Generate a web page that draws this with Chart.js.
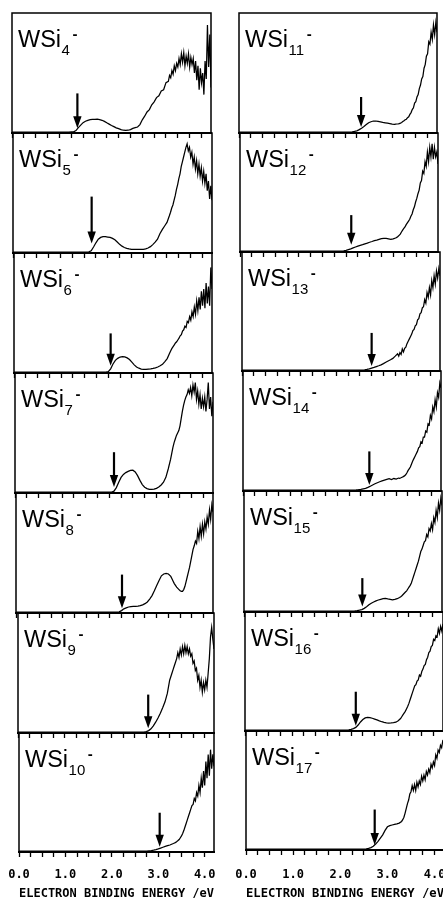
<!DOCTYPE html>
<html><head><meta charset="utf-8">
<script src="https://cdn.jsdelivr.net/npm/chart.js@4.4.0/dist/chart.umd.min.js"></script>
<style>
html,body{margin:0;padding:0;background:#fff;width:443px;height:898px;overflow:hidden;position:relative}
canvas{position:absolute}
</style></head><body>
<script>
// ---------------- DATA ----------------
const energy = [0.00, 0.50, 1.00,
 1.05, 1.10, 1.15, 1.20, 1.25, 1.30, 1.35, 1.40, 1.45, 1.50,
 1.55, 1.60, 1.65, 1.70, 1.75, 1.80, 1.85, 1.90, 1.95, 2.00,
 2.05, 2.10, 2.15, 2.20, 2.25, 2.30, 2.35, 2.40, 2.45, 2.50,
 2.55, 2.60, 2.65, 2.70, 2.75, 2.80, 2.85, 2.90, 2.95, 3.00,
 3.05, 3.10, 3.15, 3.20, 3.25,
 3.300, 3.325, 3.350, 3.375, 3.400, 3.425, 3.450, 3.475, 3.500,
 3.525, 3.550, 3.575, 3.600, 3.625, 3.650, 3.675, 3.700, 3.725, 3.750,
 3.775, 3.800, 3.825, 3.850, 3.875, 3.900, 3.925, 3.950, 3.975, 4.000,
 4.025, 4.050, 4.075, 4.100, 4.125, 4.150, 4.175, 4.200];

const clusterSizes = [4, 5, 6, 7, 8, 9, 10, 11, 12, 13, 14, 15, 16, 17];

const wsi4 = [0.8, 0.8, 0.8,
 0.8, 0.8, 0.8, 0.8, 0.9, 1.0, 2.0, 4.5, 6.6, 8.6,
 9.8, 10.5, 11.1, 11.3, 11.4, 11.5, 11.2, 10.6, 9.7, 8.5,
 7.4, 6.3, 5.3, 4.3, 3.6, 2.8, 2.3, 2.2, 2.3, 2.8,
 3.8, 4.5, 5.0, 7.0, 11.0, 14.0, 17.5, 19.5, 23.5, 26.0,
 29.5, 31.0, 35.0, 36.0, 42.0,
 43, 48, 46, 52, 49, 56, 52, 58, 55,
 62, 57, 66, 59, 67, 56, 64, 58, 66, 55,
 63, 57, 62, 50, 60, 44, 56, 36, 54, 42,
 50, 32, 60, 45, 90, 55, 82, 38];
const wsi5 = [0.8, 0.8, 0.8,
 0.8, 0.8, 0.8, 0.8, 0.8, 0.8, 0.8, 0.8, 0.8, 0.8,
 0.8, 1.0, 1.8, 5.0, 8.5, 11.5, 13.0, 13.6, 13.6, 13.3,
 13.0, 12.2, 11.0, 9.2, 7.2, 5.7, 4.6, 3.9, 3.4, 3.1,
 3.0, 3.0, 3.0, 3.0, 3.1, 3.4, 4.2, 5.3, 7.0, 9.0,
 11.5, 16.0, 19.5, 22.5, 25.5,
 31, 34, 37.5, 40, 44, 48, 53, 57, 62,
 66, 72, 76, 80, 84, 88, 91, 85, 88, 80,
 84, 74, 80, 70, 77, 66, 74, 64, 71, 60,
 68, 58, 66, 52, 60, 45, 56, 44];
const wsi6 = [0.8, 0.8, 0.8,
 0.8, 0.8, 0.8, 0.8, 0.8, 0.8, 0.8, 0.8, 0.8, 0.8,
 0.8, 0.8, 0.8, 0.8, 0.8, 0.8, 0.8, 0.8, 0.8, 1.2,
 3.5, 7.5, 10.5, 12.2, 13.3, 13.6, 13.4, 12.6, 11.2, 9.0,
 6.8, 5.0, 4.0, 3.3, 3.0, 3.0, 3.2, 3.4, 3.8, 4.3,
 5.0, 6.0, 7.2, 9.5, 12.0,
 16.4, 18.5, 20.5, 22, 23.5, 25, 26, 27.5, 29,
 31, 32, 35, 36, 39, 38, 43, 42, 47, 44,
 51, 47, 55, 49, 60, 52, 63, 53, 68, 56,
 70, 54, 75, 58, 72, 56, 88, 70];
const wsi7 = [0.8, 0.8, 0.8,
 0.8, 0.8, 0.8, 0.8, 0.8, 0.8, 0.8, 0.8, 0.8, 0.8,
 0.8, 0.8, 0.8, 0.8, 0.8, 0.8, 0.8, 0.8, 0.8, 0.8,
 0.8, 1.5, 4.5, 9.0, 13.0, 15.5, 17.0, 18.0, 18.8, 19.0,
 17.5, 14.5, 10.5, 7.0, 4.8, 3.7, 3.1, 3.0, 3.2, 3.9,
 5.0, 6.7, 9.0, 13.0, 20.0,
 28, 33, 38, 42, 45, 48, 50, 52, 56,
 62, 68, 73, 77, 80, 82, 86, 83, 88, 81,
 90, 84, 92, 78, 85, 74, 82, 70, 79, 72,
 80, 68, 78, 92, 70, 80, 64, 76];
const wsi8 = [0.8, 0.8, 0.8,
 0.8, 0.8, 0.8, 0.8, 0.8, 0.8, 0.8, 0.8, 0.8, 0.8,
 0.8, 0.8, 0.8, 0.8, 0.8, 0.8, 0.8, 0.8, 0.8, 0.8,
 0.8, 0.8, 0.8, 1.0, 2.0, 3.5, 4.3, 5.0, 5.4, 5.5,
 5.6, 5.8, 6.1, 6.8, 7.8, 9.2, 11.6, 14.5, 18.5, 23.0,
 27.0, 31.0, 32.5, 33.0, 32.5,
 30.5, 28.5, 26.5, 24.5, 23, 21.5, 20.5, 19.5, 18.5,
 18, 18, 19.5, 22, 26, 30, 34, 38, 43, 48,
 53, 56, 60, 58, 68, 62, 72, 64, 74, 66,
 76, 70, 80, 74, 86, 78, 90, 84];
const wsi9 = [0.8, 0.8, 0.8,
 0.8, 0.8, 0.8, 0.8, 0.8, 0.8, 0.8, 0.8, 0.8, 0.8,
 0.8, 0.8, 0.8, 0.8, 0.8, 0.8, 0.8, 0.8, 0.8, 0.8,
 0.8, 0.8, 0.8, 0.8, 0.8, 0.8, 0.8, 0.8, 0.8, 0.8,
 0.8, 0.8, 0.8, 0.8, 1.2, 2.0, 3.5, 6.0, 9.0, 12.5,
 16.5, 21.0, 26.0, 33.0, 44.0,
 50, 53, 56, 59, 62, 67, 63, 70, 65,
 72, 66, 73, 67, 72, 66, 70, 64, 66, 58,
 60, 52, 54, 44, 48, 38, 44, 34, 42, 36,
 44, 38, 50, 62, 80, 88, 78, 70];
const wsi10 = [0.8, 0.8, 0.8,
 0.8, 0.8, 0.8, 0.8, 0.8, 0.8, 0.8, 0.8, 0.8, 0.8,
 0.8, 0.8, 0.8, 0.8, 0.8, 0.8, 0.8, 0.8, 0.8, 0.8,
 0.8, 0.8, 0.8, 0.8, 0.8, 0.8, 0.8, 0.8, 0.8, 0.8,
 0.8, 0.8, 0.8, 0.8, 0.8, 1.0, 1.2, 1.5, 2.0, 2.6,
 3.3, 4.0, 4.7, 5.3, 5.9,
 6.7, 7.1, 7.6, 8.1, 8.8, 9.6, 10.5, 12, 13.5,
 15.5, 18, 21, 24, 27, 30, 33, 36, 39, 40,
 45, 43, 50, 47, 56, 50, 62, 54, 68, 56,
 76, 62, 82, 64, 86, 70, 82, 72];
const wsi11 = [0.8, 0.8, 0.8,
 0.8, 0.8, 0.8, 0.8, 0.8, 0.8, 0.8, 0.8, 0.8, 0.8,
 0.8, 0.8, 0.8, 0.8, 0.8, 0.8, 0.8, 0.8, 0.8, 0.8,
 0.8, 0.8, 0.8, 0.8, 0.8, 0.8, 0.8, 1.0, 1.3, 1.8,
 2.8, 4.0, 5.4, 7.0, 8.6, 9.4, 10.0, 10.0, 9.6, 9.2,
 8.8, 8.5, 8.2, 7.8, 7.4,
 7.2, 7.4, 7.5, 7.6, 7.8, 8.2, 8.8, 9.5, 10.2,
 11, 11.5, 12.8, 13.5, 15.5, 17, 19.5, 21, 25, 26,
 30, 32, 37, 40, 45, 47, 54, 57, 64, 66,
 76, 74, 84, 78, 90, 82, 92, 84];
const wsi12 = [0.8, 0.8, 0.8,
 0.8, 0.8, 0.8, 0.8, 0.8, 0.8, 0.8, 0.8, 0.8, 0.8,
 0.8, 0.8, 0.8, 0.8, 0.8, 0.8, 0.8, 0.8, 0.8, 0.8,
 0.8, 0.8, 0.8, 1.0, 1.4, 2.0, 2.6, 3.4, 4.2, 5.0,
 5.6, 6.2, 6.9, 7.5, 8.2, 8.8, 9.5, 10.0, 10.6, 11.2,
 11.5, 11.4, 11.0, 10.6, 11.0,
 11.8, 12.3, 13, 14, 15, 16.8, 18.4, 19.8, 21,
 23, 24.5, 26, 27.5, 30, 32, 35.5, 38, 42, 45,
 49, 52, 58, 60, 68, 66, 76, 72, 84, 76,
 88, 80, 91, 78, 88, 80, 84, 74];
const wsi13 = [0.8, 0.8, 0.8,
 0.8, 0.8, 0.8, 0.8, 0.8, 0.8, 0.8, 0.8, 0.8, 0.8,
 0.8, 0.8, 0.8, 0.8, 0.8, 0.8, 0.8, 0.8, 0.8, 0.8,
 0.8, 0.8, 0.8, 0.8, 0.8, 0.8, 0.8, 0.8, 0.8, 0.8,
 0.8, 1.0, 1.3, 1.8, 2.4, 3.0, 3.7, 4.4, 5.2, 6.2,
 7.4, 8.4, 9.4, 10.6, 12.5,
 14.5, 12.5, 15.5, 14, 18.5, 16, 19, 20, 23,
 25, 27, 29, 31, 34, 35, 38, 39, 43, 44,
 48, 49, 53, 54, 60, 57, 66, 62, 70, 64,
 76, 70, 80, 73, 84, 78, 86, 80];
const wsi14 = [0.8, 0.8, 0.8,
 0.8, 0.8, 0.8, 0.8, 0.8, 0.8, 0.8, 0.8, 0.8, 0.8,
 0.8, 0.8, 0.8, 0.8, 0.8, 0.8, 0.8, 0.8, 0.8, 0.8,
 0.8, 0.8, 0.8, 0.8, 0.8, 0.8, 0.8, 0.9, 1.1, 1.4,
 1.8, 2.2, 3.0, 4.0, 5.0, 6.0, 6.9, 7.7, 8.4, 9.1,
 9.7, 10.2, 9.6, 10.4, 9.9,
 10.8, 10.6, 11, 11.5, 12, 12.6, 13.5, 15, 17,
 18.5, 20, 22.5, 25, 27, 29, 31, 33, 36, 37,
 41, 40, 45, 45, 50, 49, 56, 55, 63, 60,
 70, 66, 76, 70, 82, 78, 90, 86];
const wsi15 = [0.8, 0.8, 0.8,
 0.8, 0.8, 0.8, 0.8, 0.8, 0.8, 0.8, 0.8, 0.8, 0.8,
 0.8, 0.8, 0.8, 0.8, 0.8, 0.8, 0.8, 0.8, 0.8, 0.8,
 0.8, 0.8, 0.8, 0.8, 0.8, 0.8, 0.9, 1.1, 1.5, 2.0,
 3.0, 4.3, 6.0, 7.3, 8.3, 9.2, 9.9, 10.5, 11.0, 11.2,
 10.8, 10.5, 10.1, 10.4, 11.0,
 12, 12.7, 13.5, 14.5, 15.5, 16.5, 17.5, 19, 20.5,
 22, 24, 27, 30, 33, 36, 39, 42, 46, 50,
 52, 55, 58, 59, 64, 62, 69, 67, 73, 68,
 78, 74, 84, 78, 90, 84, 94, 88];
const wsi16 = [0.8, 0.8, 0.8,
 0.8, 0.8, 0.8, 0.8, 0.8, 0.8, 0.8, 0.8, 0.8, 0.8,
 0.8, 0.8, 0.8, 0.8, 0.8, 0.8, 0.8, 0.8, 0.8, 0.8,
 0.8, 0.8, 0.8, 1.0, 1.4, 2.0, 3.0, 5.0, 7.6, 9.6,
 11.0, 11.5, 11.2, 10.7, 10.0, 9.3, 8.5, 7.8, 7.2, 6.9,
 6.7, 6.8, 7.0, 7.4, 8.6,
 10.5, 12, 13.5, 15, 16.5, 18.5, 20.5, 23, 26,
 29, 32, 35, 38, 39, 42, 43, 47, 46, 50,
 52, 55, 56, 60, 62, 66, 67, 71, 72, 77,
 76, 80, 79, 86, 82, 88, 84, 90];
const wsi17 = [0.8, 0.8, 0.8,
 0.8, 0.8, 0.8, 0.8, 0.8, 0.8, 0.8, 0.8, 0.8, 0.8,
 0.8, 0.8, 0.8, 0.8, 0.8, 0.8, 0.8, 0.8, 0.8, 0.8,
 0.8, 0.8, 0.8, 0.8, 0.8, 0.8, 0.8, 0.8, 0.8, 0.8,
 1.0, 1.4, 2.0, 3.2, 5.0, 7.3, 10.0, 12.7, 16.5, 19.5,
 20.5, 21.0, 21.5, 22.0, 22.6,
 24, 25.5, 27.5, 31, 35, 39, 42, 47, 49,
 54, 50, 55, 50, 57, 53, 58, 55, 62, 58,
 63, 59, 66, 63, 68, 65, 72, 69, 74, 71,
 80, 77, 84, 82, 88, 86, 92, 93];

const spectra = [wsi4, wsi5, wsi6, wsi7, wsi8, wsi9, wsi10,
                 wsi11, wsi12, wsi13, wsi14, wsi15, wsi16, wsi17];

// threshold arrows: energy (eV), shaft top and tip (% of panel height)
const arrowEnergy = [1.38, 1.66, 2.05, 2.10, 2.26, 2.79, 3.03, 2.59, 2.36, 2.75, 2.68, 2.51, 2.35, 2.73];
const arrowTop    = [33, 47, 33, 34, 32, 32, 33, 30, 31, 32, 33, 28, 33, 34];
const arrowTip    = [4, 8, 6, 5, 4, 4, 4.5, 5, 6, 4.2, 5, 4.6, 4.5, 4.2];

const xTickValues = [0, 0.25, 0.5, 0.75, 1.0, 1.25, 1.5, 1.75, 2.0, 2.25, 2.5, 2.75, 3.0, 3.25, 3.5, 3.75, 4.0];
const xTitle = 'ELECTRON BINDING ENERGY /eV';

// ---------------- LAYOUT ----------------
const colTops = [[13, 133, 253, 373, 493, 613, 733, 852], [13, 133, 252, 371, 491, 612, 731, 850]];
const colLeft = [[12, 13, 14, 15, 16, 18, 19], [239, 240, 242, 243, 244, 245, 246]];
const colRight = [[211, 212, 212, 213, 213, 214, 214], [437, 438, 440, 441, 442, 443, 444]];
const bottomAxisH = [49, 51];
const bottomTickPad = [11, 13];
const PAD_L = 26, PAD_R = 26, PAD_T = 4;

const boxPlugin = {
  id: 'panelBox',
  afterDraw(chart) {
    const {ctx, chartArea: a} = chart;
    ctx.save();
    ctx.strokeStyle = '#000';
    ctx.lineWidth = 1.5;
    ctx.beginPath();
    ctx.moveTo(a.left, a.bottom); ctx.lineTo(a.left, a.top);
    ctx.lineTo(a.right, a.top); ctx.lineTo(a.right, a.bottom);
    ctx.stroke();
    ctx.restore();
  }
};
const labelPlugin = {
  id: 'panelLabel',
  afterDraw(chart, args, opts) {
    const {ctx, chartArea: a} = chart;
    ctx.save();
    ctx.fillStyle = '#000';
    ctx.textBaseline = 'alphabetic';
    ctx.textAlign = 'left';
    const x0 = a.left + 6, y0 = a.top + 34;
    ctx.font = '23.5px "Liberation Sans", Arial, sans-serif';
    ctx.fillText('WSi', x0, y0);
    let x = x0 + ctx.measureText('WSi').width + 0.5;
    ctx.font = '15px "Liberation Sans", Arial, sans-serif';
    ctx.fillText(opts.sub, x, y0 + 8);
    x += ctx.measureText(opts.sub).width + 2.5;
    ctx.font = 'bold 15px "Liberation Sans", Arial, sans-serif';
    ctx.fillText('-', x, y0 - 8);
    ctx.restore();
  }
};
const arrowPlugin = {
  id: 'thresholdArrow',
  afterDatasetsDraw(chart, args, opts) {
    const {ctx} = chart;
    const px = chart.scales.x.getPixelForValue(opts.energy);
    const pTop = chart.scales.y.getPixelForValue(opts.top);
    const pTip = chart.scales.y.getPixelForValue(opts.tip);
    ctx.save();
    ctx.strokeStyle = '#000';
    ctx.fillStyle = '#000';
    ctx.lineWidth = 2.2;
    ctx.beginPath();
    ctx.moveTo(px, pTop);
    ctx.lineTo(px, pTip - 9);
    ctx.stroke();
    ctx.beginPath();
    ctx.moveTo(px - 4.2, pTip - 12);
    ctx.lineTo(px + 4.2, pTip - 12);
    ctx.lineTo(px, pTip);
    ctx.closePath();
    ctx.fill();
    ctx.restore();
  }
};

spectra.forEach((series, p) => {
  const col = p < 7 ? 0 : 1;
  const row = p % 7;
  const isBottom = row === 6;
  const top = colTops[col][row];
  const h = colTops[col][row + 1] - top;
  const left = colLeft[col][row];
  const w = colRight[col][row] - left;
  const axisH = isBottom ? bottomAxisH[col] : 7;
  const cw = w + PAD_L + PAD_R;
  const ch = PAD_T + h + axisH;
  const canvas = document.createElement('canvas');
  canvas.width = cw; canvas.height = ch;
  canvas.style.width = cw + 'px'; canvas.style.height = ch + 'px';
  canvas.style.left = (left - PAD_L) + 'px';
  canvas.style.top = (top - PAD_T) + 'px';
  document.body.appendChild(canvas);

  new Chart(canvas.getContext('2d'), {
    type: 'line',
    data: {
      datasets: [{
        data: energy.map((e, j) => ({x: e, y: series[j]})),
        borderColor: '#000',
        borderWidth: 1.25,
        pointRadius: 0,
        fill: false,
        tension: 0
      }]
    },
    options: {
      responsive: false,
      animation: false,
      devicePixelRatio: 1,
      events: [],
      layout: {padding: {left: PAD_L, right: PAD_R, top: PAD_T, bottom: 0}},
      plugins: {
        legend: {display: false},
        tooltip: {enabled: false},
        panelLabel: {sub: String(clusterSizes[p])},
        thresholdArrow: {energy: arrowEnergy[p], top: arrowTop[p], tip: arrowTip[p]}
      },
      scales: {
        x: {
          type: 'linear', min: 0, max: 4.2,
          afterBuildTicks: (scale) => { scale.ticks = xTickValues.map(v => ({value: v})); },
          afterFit: (scale) => { scale.height = axisH; },
          grid: {display: true, drawOnChartArea: false, drawTicks: true, tickLength: 5,
                 tickColor: '#000', tickWidth: 1.3, color: '#000'},
          border: {display: true, color: '#000', width: 2},
          ticks: {
            display: isBottom, autoSkip: false, maxRotation: 0, minRotation: 0,
            padding: bottomTickPad[col],
            color: '#000',
            font: {family: '"DejaVu Sans Mono", monospace', size: 12, weight: 'bold'},
            callback: (v) => Number.isInteger(v) ? v.toFixed(1) : ''
          },
          title: {
            display: isBottom, text: xTitle, color: '#000',
            padding: {top: 0, bottom: 0},
            font: {family: '"DejaVu Sans Mono", monospace', size: 12.5, weight: 'bold'}
          }
        },
        y: {min: 0, max: 100, display: false}
      }
    },
    plugins: [boxPlugin, labelPlugin, arrowPlugin]
  });
});
</script>
</body></html>
